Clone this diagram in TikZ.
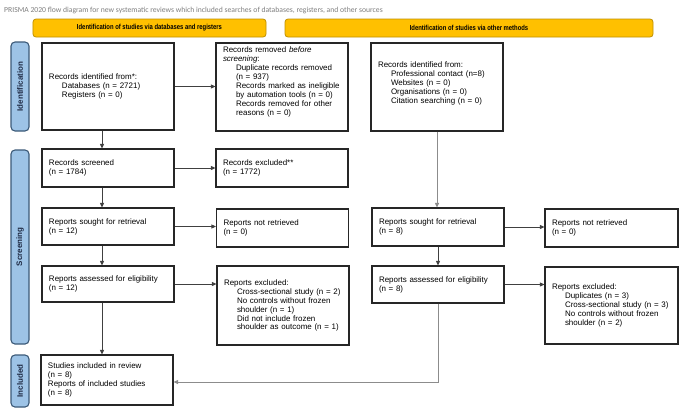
\documentclass[tikz,border=0pt]{standalone}
\usepackage{fontspec}
\usepackage{graphicx}
\setmainfont{Liberation Sans}
\newfontfamily\titlefont{Carlito}
\usetikzlibrary{arrows.meta}
\definecolor{titlegray}{HTML}{7F7F7F}
\definecolor{hdrfill}{HTML}{FFC000}
\definecolor{hdrline}{HTML}{BF9000}
\definecolor{sidefill}{HTML}{9DC3E6}
\definecolor{sideline}{HTML}{3C5A78}
\definecolor{sidetext}{HTML}{1F2A44}
\definecolor{boxline}{HTML}{262626}
\definecolor{arrowc}{HTML}{404040}
\definecolor{lightline}{HTML}{8C8C8C}
\newcommand{\ind}{\hspace*{13bp}}
\begin{document}
\begin{tikzpicture}[x=1bp,y=-1bp,
  box/.style={draw=boxline, line width=1.1bp, inner xsep=7bp, inner ysep=0bp,
    align=left, font=\fontsize{8}{9}\selectfont, anchor=center},
  hdr/.style={draw=hdrline, fill=hdrfill, line width=0.8bp, rounded corners=3bp,
    font=\bfseries\fontsize{7.3}{8}\selectfont, inner sep=0bp},
  side/.style={draw=sideline, fill=sidefill, line width=1.1bp, rounded corners=4bp,
    rotate=90, font=\bfseries\fontsize{8}{9}\selectfont, text=sidetext, inner sep=0bp},
  arr/.style={draw=arrowc, line width=0.8bp, -{Triangle[length=4.5bp,width=4bp]}},
  arrlight/.style={draw=lightline, line width=0.9bp, -{Triangle[length=4.5bp,width=4bp]}}]
\useasboundingbox (0,0) rectangle (682,411);
\fill[white] (0,0) rectangle (682,411);

\node[anchor=west, inner sep=0bp, text=titlegray, font=\titlefont\fontsize{7.7}{9}\selectfont] (title) at (4,10)
  {PRISMA 2020 flow diagram for new systematic reviews which included searches of databases, registers, and other sources};

\node[hdr, minimum width=233bp, minimum height=18bp] (h1) at (149.5,28)
  {\scalebox{0.81}[1]{Identification of studies via databases and registers}};
\node[hdr, minimum width=368bp, minimum height=18bp] (h2) at (469,28)
  {\scalebox{0.81}[1]{Identification of studies via other methods}};

\node[side, minimum width=89bp, minimum height=18bp] (s1) at (20,86.5) {Identification};
\node[side, minimum width=194bp, minimum height=18bp] (s2) at (20,247) {Screening};
\node[side, minimum width=52bp, minimum height=18bp] (s3) at (20,381) {Included};

% left column
\node[box, text width=118bp, minimum height=87bp] (b1) at (108,86.5)
  {Records identified from*:\\ \ind Databases (n = 2721)\\ \ind Registers (n = 0)};
\node[box, text width=118bp, minimum height=88bp] (b2) at (282,87)
  {Records removed \textit{before}\\ \textit{screening}:\\
   \ind Duplicate records removed\\ \ind (n = 937)\\
   \ind Records marked as ineligible\\ \ind by automation tools (n = 0)\\
   \ind Records removed for other\\ \ind reasons (n = 0)\\[3bp]\mbox{}};
\node[box, text width=118bp, minimum height=38bp] (b3) at (108,168)
  {Records screened\\ (n = 1784)};
\node[box, text width=118bp, minimum height=38bp] (b4) at (282,168)
  {Records excluded**\\ (n = 1772)};
\node[box, text width=118bp, minimum height=37bp] (b5) at (108,226.5)
  {Reports sought for retrieval\\ (n = 12)};
\node[box, text width=118bp, minimum height=38bp] (b6) at (282.5,228)
  {Reports not retrieved\\ (n = 0)};
\node[box, text width=118bp, minimum height=36bp] (b7) at (108,284)
  {Reports assessed for eligibility\\ (n = 12)};
\node[box, text width=118bp, minimum height=79bp] (b8) at (283,305.5)
  {Reports excluded:\\ \ind Cross-sectional study (n = 2)\\
   \ind No controls without frozen\\ \ind shoulder (n = 1)\\
   \ind Did not include frozen\\ \ind shoulder as outcome (n = 1)};
\node[box, text width=118bp, minimum height=50bp] (b9) at (107,380)
  {Studies included in review\\ (n = 8)\\ Reports of included studies\\ (n = 8)};

% right column
\node[box, text width=118bp, minimum height=88bp] (b10) at (437,87)
  {Records identified from:\\ \ind Professional contact (n=8)\\ \ind Websites (n = 0)\\
   \ind Organisations (n = 0)\\ \ind Citation searching (n = 0)\\[-1bp]\mbox{}};
\node[box, text width=118bp, minimum height=38bp] (b11) at (438,227)
  {Reports sought for retrieval\\ (n = 8)};
\node[box, text width=119bp, minimum height=38bp] (b12) at (611.5,228)
  {Reports not retrieved\\ (n = 0)};
\node[box, text width=118bp, minimum height=37bp] (b13) at (438,284.5)
  {Reports assessed for eligibility\\ (n = 8)};
\node[box, text width=119bp, minimum height=77bp] (b14) at (611.5,305.5)
  {Reports excluded:\\ \ind Duplicates (n = 3)\\ \ind Cross-sectional study (n = 3)\\
   \ind No controls without frozen\\ \ind shoulder (n = 2)};

% connectors left
\draw[arr] (b1.east) -- (b1.east -| b2.west);
\draw[arr] ([xshift=-6bp]b1.south) -- ([xshift=-6bp]b1.south |- b3.north);
\draw[arr] (b3.east) -- (b3.east -| b4.west);
\draw[arr] ([xshift=-6bp]b3.south) -- ([xshift=-6bp]b3.south |- b5.north);
\draw[arr] (b5.east) -- (b5.east -| b6.west);
\draw[arr] ([xshift=-6bp]b5.south) -- ([xshift=-6bp]b5.south |- b7.north);
\draw[arr] (b7.east) -- (b7.east -| b8.west);
\draw[arr] ([xshift=-6bp]b7.south) -- ([xshift=-6bp]b7.south |- b9.north);

% connectors right
\draw[arrlight] (b10.south) -- (b10.south |- b11.north);
\draw[arr] (b11.east) -- (b11.east -| b12.west);
\draw[arr] (b11.south) -- (b11.south |- b13.north);
\draw[arr] (b13.east) -- (b13.east -| b14.west);
\draw[arrlight] (b13.south) |- ([yshift=-2bp]b9.east);
\end{tikzpicture}
\end{document}
